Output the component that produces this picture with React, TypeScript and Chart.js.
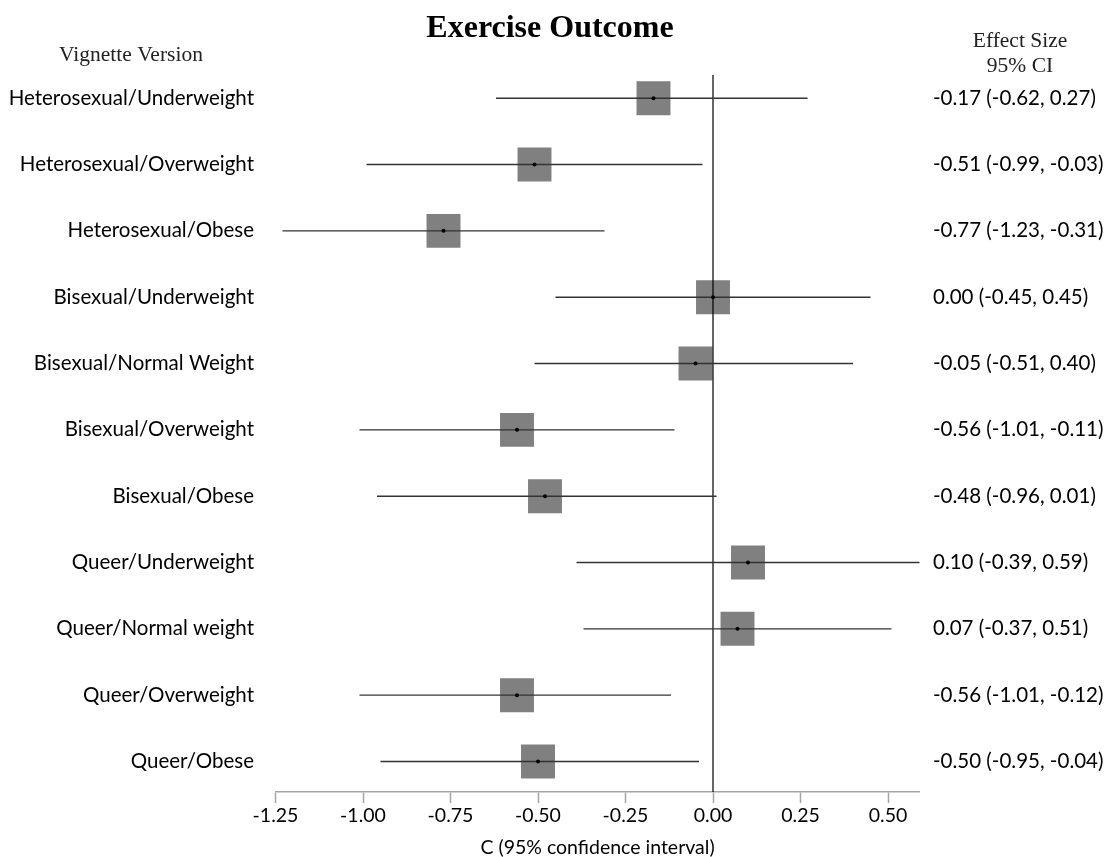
import { useEffect, useRef } from "react";
import { Chart, registerables } from "chart.js";

Chart.register(...registerables);

// Vignette versions, top to bottom
const versions = [
  "Heterosexual/Underweight",
  "Heterosexual/Overweight",
  "Heterosexual/Obese",
  "Bisexual/Underweight",
  "Bisexual/Normal Weight",
  "Bisexual/Overweight",
  "Bisexual/Obese",
  "Queer/Underweight",
  "Queer/Normal weight",
  "Queer/Overweight",
  "Queer/Obese",
];

// Effect size and 95% confidence bounds
const estimates = [-0.17, -0.51, -0.77, 0.0, -0.05, -0.56, -0.48, 0.1, 0.07, -0.56, -0.5];
const lower = [-0.62, -0.99, -1.23, -0.45, -0.51, -1.01, -0.96, -0.39, -0.37, -1.01, -0.95];
const upper = [0.27, -0.03, -0.31, 0.45, 0.4, -0.11, 0.01, 0.59, 0.51, -0.12, -0.04];

const xTicks = [-1.25, -1.0, -0.75, -0.5, -0.25, 0.0, 0.25, 0.5];
const xMin = -1.25;
const xMax = 0.59;

const title = "Exercise Outcome";
const leftHeader = "Vignette Version";
const rightHeader = ["Effect Size", "95% CI"];
const xTitle = "C (95% confidence interval)";

const sansFont = "Lato, 'Open Sans', sans-serif";
const serifFont = "'Liberation Serif', 'Times New Roman', serif";

const fmt = (v: number) => v.toFixed(2);

const textPlugin = {
  id: "forestText",
  afterDraw(chart: any) {
    const { ctx, scales, chartArea } = chart;
    const y = scales.y;
    ctx.save();
    ctx.fillStyle = "#000";
    ctx.textBaseline = "middle";

    // title
    ctx.font = `bold 32px ${serifFont}`;
    ctx.textAlign = "center";
    ctx.fillText(title, 550, 29);

    // column headers
    ctx.font = `21.5px ${serifFont}`;
    ctx.fillStyle = "#222";
    ctx.fillText(leftHeader, 131, 55);
    ctx.fillText(rightHeader[0], 1020, 41);
    ctx.fillText(rightHeader[1], 1020, 66);

    // row labels and effect-size text
    ctx.fillStyle = "#000";
    ctx.font = `20.5px ${sansFont}`;
    versions.forEach((name, i) => {
      const py = y.getPixelForValue(i);
      ctx.textAlign = "right";
      ctx.fillText(name, 254, py);
      ctx.textAlign = "left";
      ctx.fillText(`${fmt(estimates[i])} (${fmt(lower[i])}, ${fmt(upper[i])})`, 933, py);
    });

    // x axis title
    ctx.textAlign = "center";
    ctx.font = `19.5px ${sansFont}`;
    ctx.fillText(xTitle, (chartArea.left + chartArea.right) / 2, 848);
    ctx.restore();
  },
};

export default function App() {
  const canvasRef = useRef<HTMLCanvasElement>(null);

  useEffect(() => {
    const canvas = canvasRef.current;
    if (!canvas) return;

    const rows = versions.map((_, i) => i);

    const ciSets = rows.map((i) => ({
      type: "line" as const,
      data: [
        { x: lower[i], y: i },
        { x: upper[i], y: i },
      ],
      borderColor: "#333333",
      borderWidth: 1.4,
      pointRadius: 0,
      showLine: true,
      order: 2,
      clip: false as const,
    }));

    const chart = new Chart(canvas, {
      type: "scatter",
      data: {
        datasets: [
          {
            type: "scatter",
            data: rows.map((i) => ({ x: estimates[i], y: i })),
            pointStyle: "rect",
            pointRadius: 24,
            backgroundColor: "#808080",
            borderColor: "#808080",
            borderWidth: 0,
            order: 4,
          },
          ...ciSets,
          {
            type: "line",
            data: [
              { x: 0, y: -0.35 },
              { x: 0, y: 10.46 },
            ],
            borderColor: "#000",
            borderWidth: 1.2,
            pointRadius: 0,
            showLine: true,
            order: 3,
            clip: false,
          },
          {
            type: "scatter",
            data: rows.map((i) => ({ x: estimates[i], y: i })),
            pointStyle: "circle",
            pointRadius: 2,
            backgroundColor: "#000",
            borderWidth: 0,
            order: 1,
          },
        ] as any,
      },
      options: {
        animation: false,
        responsive: false,
        maintainAspectRatio: false,
        layout: { padding: { left: 275.5, right: 189.5, top: 75, bottom: 0 } },
        plugins: {
          legend: { display: false },
          tooltip: { enabled: false },
          title: { display: false },
        },
        scales: {
          x: {
            type: "linear",
            min: xMin,
            max: xMax,
            afterBuildTicks: (scale: any) => {
              scale.ticks = xTicks.map((v) => ({ value: v }));
            },
            afterFit: (scale: any) => {
              scale.height = 65;
            },
            grid: {
              drawOnChartArea: false,
              drawTicks: true,
              tickLength: 11,
              tickColor: "#a6a6a6",
              tickWidth: 1.5,
            },
            border: { display: true, color: "#a6a6a6", width: 1.5 },
            ticks: {
              color: "#000",
              padding: 1,
              maxRotation: 0,
              autoSkip: false,
              font: { family: sansFont, size: 19.5 },
              callback: (v: any) => Number(v).toFixed(2),
            },
          },
          y: {
            type: "linear",
            display: false,
            reverse: true,
            min: -0.35,
            max: 10.46,
          },
        },
      },
      plugins: [textPlugin],
    });

    return () => chart.destroy();
  }, []);

  return (
    <div style={{ position: "fixed", left: 0, top: 0, width: 1109, height: 857, background: "#fff" }}>
      <canvas ref={canvasRef} width={1109} height={857} style={{ width: 1109, height: 857 }} />
    </div>
  );
}
